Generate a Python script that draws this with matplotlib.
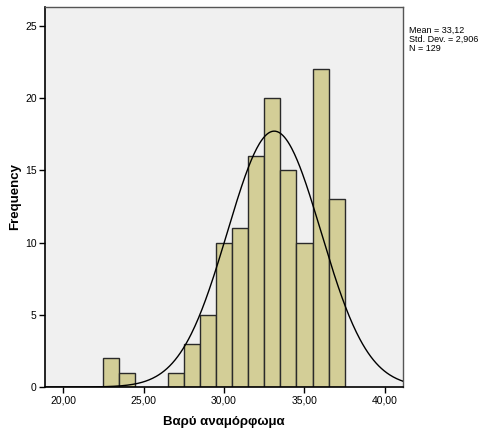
import numpy as np
import matplotlib
matplotlib.use("Agg")
import matplotlib.pyplot as plt

plt.rcParams['font.family'] = ['Liberation Sans', 'DejaVu Sans']

bin_left = [22.5, 23.5, 24.5, 25.5, 26.5, 27.5, 28.5, 29.5, 30.5, 31.5, 32.5, 33.5, 34.5, 35.5, 36.5]
counts = [2, 1, 0, 0, 1, 3, 5, 10, 11, 16, 20, 15, 10, 22, 13]
bin_width = 1.0
mean, sd, n = 33.12, 2.906, 129
xticks = [20, 25, 30, 35, 40]
xticklabels = ["20,00", "25,00", "30,00", "35,00", "40,00"]
yticks = [0, 5, 10, 15, 20, 25]

fig = plt.figure(figsize=(4.84, 4.32), dpi=100)
ax = fig.add_axes([45/484, 45/432, 358/484, 380/432])
ax.set_facecolor('#F0F0F0')

for xl, c in zip(bin_left, counts):
    if c > 0:
        ax.bar(xl, c, width=bin_width, align='edge', color='#D3CE97',
               edgecolor='#2a2a2a', linewidth=1.0, zorder=2)

xs = np.linspace(18.88, 41.12, 400)
ys = n * bin_width * np.exp(-0.5 * ((xs - mean) / sd) ** 2) / (sd * np.sqrt(2 * np.pi))
ax.plot(xs, ys, color='black', linewidth=1.0, zorder=3)

ax.set_xlim(18.88, 41.12)
ax.set_ylim(0, 26.3)
ax.set_xticks(xticks)
ax.set_xticklabels(xticklabels, fontsize=7.5)
ax.set_yticks(yticks)
ax.set_yticklabels([str(v) for v in yticks], fontsize=7.5)
ax.tick_params(direction='out', length=4, width=1, color='black', pad=2)
for s in ['left', 'bottom']:
    ax.spines[s].set_color('black')
    ax.spines[s].set_linewidth(1.2)
for s in ['top', 'right']:
    ax.spines[s].set_color('#555555')
    ax.spines[s].set_linewidth(1.0)

ax.set_xlabel('Βαρύ αναμόρφωμα', fontsize=9.5, fontweight='bold', labelpad=8)
ax.set_ylabel('Frequency', fontsize=9.5, fontweight='bold', labelpad=3)

fig.text(409/484, 1 - 26/432, "Mean = 33,12\nStd. Dev. = 2,906\nN = 129",
         fontsize=6.5, va='top', ha='left', linespacing=1.0)

fig.savefig('out.png', dpi=100, facecolor='white')
